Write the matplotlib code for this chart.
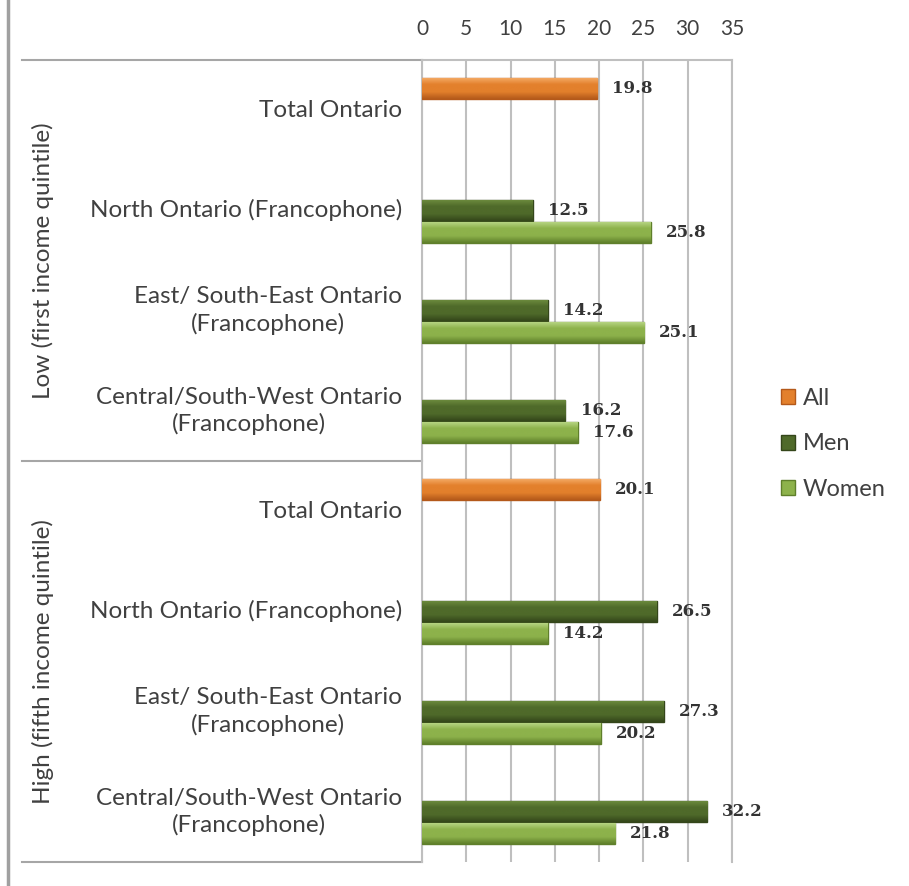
import matplotlib.pyplot as plt
from matplotlib.lines import Line2D
from matplotlib.patches import Patch
from matplotlib.colors import LinearSegmentedColormap
import numpy as np

# data
groups = ['Low (first income quintile)', 'High (fifth income quintile)']
regions = ['Total Ontario',
           'North Ontario (Francophone)',
           'East/ South-East Ontario\n(Francophone)',
           'Central/South-West Ontario\n(Francophone)']
all_vals = [19.8, None, None, None, 20.1, None, None, None]
men_vals = [None, 12.5, 14.2, 16.2, None, 26.5, 27.3, 32.2]
women_vals = [None, 25.8, 25.1, 17.6, None, 14.2, 20.2, 21.8]
ticks = [0, 5, 10, 15, 20, 25, 30, 35]

# (dark, mid, light) shades for the bevel look
col_all = ('#B4591A', '#E3802C', '#F6AE6A')
col_men = ('#34461A', '#4F6A2A', '#6F8E40')
col_women = ('#5F7F2B', '#8DB24B', '#BCD98A')
grid_col = '#BFBFBF'
text_col = '#404040'

plt.rcParams['font.family'] = ['Lato', 'DejaVu Sans']

fig = plt.figure(figsize=(9.09, 8.86), dpi=100)
ax = fig.add_axes([422 / 909, 1 - 862 / 886, 310 / 909, 802 / 886])

labels = regions + regions
n = len(labels)
y = np.arange(n)
h = 0.21
off = 0.22


def draw(vals, dy, cols):
    dark, mid, light = cols
    cmap = LinearSegmentedColormap.from_list('bev', [light, mid, mid, dark])
    grad = np.linspace(0, 1, 64).reshape(-1, 1)
    for i, v in enumerate(vals):
        if v is None:
            continue
        bar = ax.barh(y[i] + dy, v, height=h, color=mid, edgecolor=dark,
                      linewidth=1.0, zorder=3)[0]
        x0, y0 = bar.get_x(), bar.get_y()
        w, hh = bar.get_width(), bar.get_height()
        im = ax.imshow(grad, cmap=cmap, aspect='auto', zorder=3.5,
                       extent=(x0, x0 + w, y0 + hh, y0), interpolation='bicubic')
        im.set_clip_path(bar)
        ax.text(v + 1.7, y[i] + dy, f'{v:.1f}', va='center', ha='left',
                fontsize=12, fontweight='bold', family='DejaVu Serif',
                color='#333333', zorder=4)


draw(all_vals, -off, col_all)
draw(men_vals, 0, col_men)
draw(women_vals, off, col_women)

ax.set_xlim(0, 35)
ax.set_ylim(n - 0.5, -0.5)
ax.set_xticks(ticks)
ax.xaxis.tick_top()
ax.tick_params(axis='x', length=0, pad=15, labelsize=15, labelcolor=text_col)
ax.set_yticks([])
ax.grid(axis='x', color=grid_col, linewidth=1.5, zorder=0)
for s in ['top', 'right', 'left']:
    ax.spines[s].set_color(grid_col)
    ax.spines[s].set_linewidth(1.5)
ax.spines['bottom'].set_visible(False)

# category labels on the left
for i, lab in enumerate(labels):
    ax.text(-20 / 310, y[i], lab, transform=ax.get_yaxis_transform(),
            ha='right', va='center', multialignment='center',
            fontsize=17.5, color=text_col, linespacing=1.3)

# group separators and group labels
for b in [-0.5, 3.5, 7.5]:
    ax.add_line(Line2D([-400 / 310, 0], [b, b], transform=ax.get_yaxis_transform(),
                       color='#A6A6A6', linewidth=1.5, clip_on=False))
for g, lab in enumerate(groups):
    ax.text(-379 / 310, 1.5 + 4 * g, lab, transform=ax.get_yaxis_transform(),
            rotation=90, ha='center', va='center', fontsize=17.5, color=text_col)

# left border of the chart
fig.add_artist(Line2D([8 / 909, 8 / 909], [0, 1], color='#A0A0A0', linewidth=2.5))

handles = [Patch(facecolor=c[1], edgecolor=c[0]) for c in (col_all, col_men, col_women)]
fig.legend(handles, ['All', 'Men', 'Women'], loc='center left',
           bbox_to_anchor=(760 / 909, 1 - 444 / 886), frameon=False,
           fontsize=17, labelcolor=text_col, handlelength=0.6, handleheight=0.6,
           handletextpad=0.3, labelspacing=1.05)

fig.savefig('out.png', dpi=100)
